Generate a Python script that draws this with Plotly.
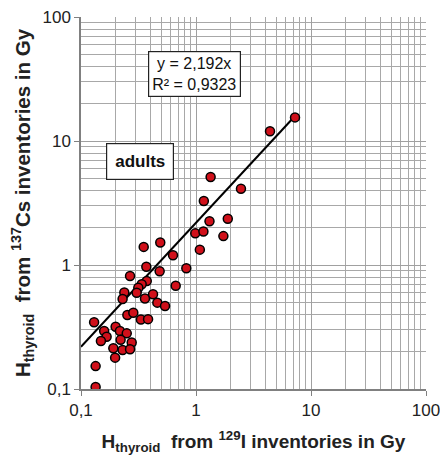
import plotly.graph_objects as go

# Data (Gy)
h_i129 = [7.26, 4.40, 1.34, 2.46, 1.17, 1.31, 1.89, 0.986, 1.16, 1.73, 1.08,
          0.351, 0.489, 0.631, 0.370, 0.483, 0.824, 0.267, 0.666, 0.373, 0.337,
          0.315, 0.305, 0.238, 0.230, 0.360, 0.423, 0.461, 0.538, 0.253, 0.285,
          0.332, 0.383, 0.130, 0.159, 0.167, 0.149, 0.200, 0.218, 0.250, 0.221,
          0.276, 0.191, 0.230, 0.267, 0.198, 0.134, 0.134]
h_cs137 = [15.5, 12.0, 5.13, 4.12, 3.28, 2.25, 2.36, 1.80, 1.86, 1.71, 1.33,
           1.40, 1.52, 1.20, 0.969, 0.890, 0.94, 0.815, 0.681, 0.743, 0.70,
           0.656, 0.598, 0.60, 0.532, 0.537, 0.58, 0.497, 0.467, 0.395, 0.412,
           0.364, 0.366, 0.345, 0.294, 0.264, 0.244, 0.318, 0.294, 0.281, 0.249,
           0.237, 0.213, 0.206, 0.209, 0.179, 0.153, 0.104]
slope = 2.192
r2_text = "0,9323"
tick_vals = [0.1, 1, 10, 100]
tick_text = ["0,1", "1", "10", "100"]
minor_vals = [m * d for d in [0.1, 1, 10] for m in range(2, 10)]

trend_x = [0.1, max(h_i129)]
trend_y = [slope * v for v in trend_x]

FONT = "Arial, Liberation Sans, sans-serif"

fig = go.Figure()
fig.add_trace(go.Scatter(x=trend_x, y=trend_y, mode="lines",
                         line=dict(color="black", width=2), showlegend=False,
                         hoverinfo="skip"))
fig.add_trace(go.Scatter(x=h_i129, y=h_cs137, mode="markers",
                         marker=dict(size=9, color="#d0101a",
                                     line=dict(color="black", width=1.5)),
                         showlegend=False))

axis_common = dict(
    type="log", tickvals=tick_vals, ticktext=tick_text,
    showgrid=True, gridcolor="#a0a0a0", gridwidth=1,
    minor=dict(tickvals=minor_vals, showgrid=True, gridcolor="#a8a8a8",
               gridwidth=1),
    showline=True, linecolor="#808080", linewidth=1.5,
    ticks="outside", ticklen=5, tickcolor="#808080",
    tickfont=dict(family=FONT, size=17, color="#222"),
    zeroline=False, automargin=False, ticklabeloverflow="allow",
)

fig.update_xaxes(range=[-1, 2], **axis_common,
                 title=dict(text="<b>H<sub>thyroid</sub>  from <sup>129</sup>I inventories in Gy</b>",
                            font=dict(family=FONT, size=19, color="#222"),
                            standoff=20))
fig.update_yaxes(range=[-1, 2], **axis_common,
                 title=dict(text="<b>H<sub>thyroid</sub>  from <sup>137</sup>Cs inventories in Gy</b>",
                            font=dict(family=FONT, size=20.5, color="#222"),
                            standoff=9))

fig.add_annotation(x=-0.009, y=1.54, xref="x", yref="y",
                   text="y = 2,192x<br>R² = " + r2_text, showarrow=False,
                   font=dict(family=FONT, size=16, color="#111"),
                   bgcolor="white", bordercolor="#222", borderwidth=1.2,
                   borderpad=3)
fig.add_annotation(x=-0.49, y=0.835, xref="x", yref="y",
                   text="<b>adults</b>", showarrow=False,
                   font=dict(family=FONT, size=17, color="#111"),
                   bgcolor="white", bordercolor="#222", borderwidth=1.2,
                   borderpad=8)

# page body has an 8px default margin (left/top); compensate so the plot
# area lands at the same pixel positions as the reference
fig.update_layout(width=440, height=447,
                  margin=dict(l=73, r=22, t=9, b=66),
                  plot_bgcolor="white", paper_bgcolor="white",
                  font=dict(family=FONT))

fig.write_html("out.html")
